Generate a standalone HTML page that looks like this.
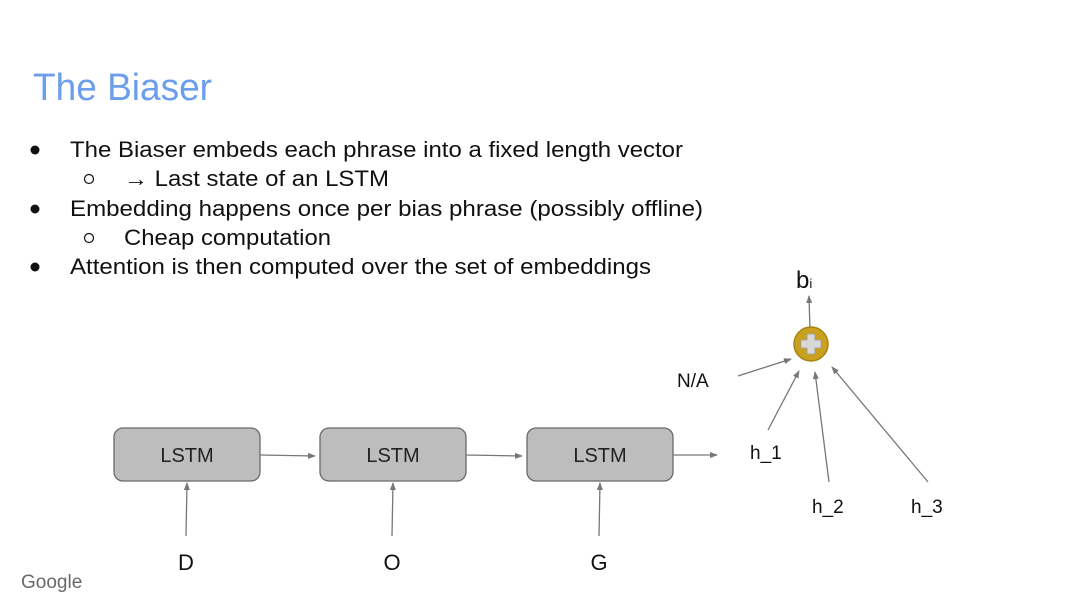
<!DOCTYPE html>
<html><head><meta charset="utf-8"><style>
html,body{margin:0;padding:0;background:#fff;}
svg{display:block;}
text{font-family:"Liberation Sans",Arial,sans-serif;}
</style></head><body>
<svg width="1080" height="607" viewBox="0 0 1080 607" xmlns="http://www.w3.org/2000/svg">
<defs>
<marker id="a" markerWidth="8" markerHeight="6" refX="7" refY="3" orient="auto" markerUnits="userSpaceOnUse">
<path d="M0,0 L8,3 L0,6 z" fill="#777"/></marker>
</defs>
<text x="33" y="100" font-size="38" fill="#6d9eeb" textLength="179" lengthAdjust="spacingAndGlyphs">The Biaser</text>
<g fill="#111">
<circle cx="35" cy="150" r="4.5"/><circle cx="35" cy="209" r="4.5"/><circle cx="35" cy="267" r="4.5"/>
</g>
<g fill="none" stroke="#111" stroke-width="1.2">
<circle cx="89" cy="179" r="4.5"/><circle cx="89" cy="238" r="4.5"/>
</g>
<g font-size="22" fill="#111" lengthAdjust="spacingAndGlyphs">
<text x="70" y="157" textLength="613" lengthAdjust="spacingAndGlyphs">The Biaser embeds each phrase into a fixed length vector</text>
<text x="124" y="186" textLength="265" lengthAdjust="spacingAndGlyphs">→ Last state of an LSTM</text>
<text x="70" y="216" textLength="633" lengthAdjust="spacingAndGlyphs">Embedding happens once per bias phrase (possibly offline)</text>
<text x="124" y="245" textLength="207" lengthAdjust="spacingAndGlyphs">Cheap computation</text>
<text x="70" y="274" textLength="581" lengthAdjust="spacingAndGlyphs">Attention is then computed over the set of embeddings</text>
</g>
<g fill="#bdbdbd" stroke="#6a6a6a" stroke-width="1.3">
<rect x="114" y="428" width="146" height="53" rx="9"/>
<rect x="320" y="428" width="146" height="53" rx="9"/>
<rect x="527" y="428" width="146" height="53" rx="9"/>
</g>
<g font-size="20" fill="#222" text-anchor="middle">
<text x="187" y="462">LSTM</text><text x="393" y="462">LSTM</text><text x="600" y="462">LSTM</text>
</g>
<g stroke="#777" stroke-width="1.3" marker-end="url(#a)">
<line x1="260" y1="455" x2="315" y2="456"/>
<line x1="466" y1="455" x2="522" y2="456"/>
<line x1="673" y1="455" x2="717" y2="455"/>
<line x1="186" y1="536" x2="187" y2="483"/>
<line x1="392" y1="536" x2="393" y2="483"/>
<line x1="599" y1="536" x2="600" y2="483"/>
<line x1="810" y1="330" x2="809" y2="296"/>
<line x1="738" y1="376" x2="791" y2="359"/>
<line x1="768" y1="430" x2="799" y2="371"/>
<line x1="829" y1="482" x2="815" y2="372"/>
<line x1="928" y1="482" x2="832" y2="367"/>
</g>
<circle cx="811" cy="344" r="17" fill="#c9a020" stroke="#a88410" stroke-width="1.5"/>
<path d="M807,334 h8 v6 h6 v8 h-6 v6 h-8 v-6 h-6 v-8 h6 z" fill="#d8d8d8" stroke="#9a9a9a" stroke-width="0.8"/>
<g font-size="22" fill="#111" text-anchor="middle">
<text x="186" y="570">D</text><text x="392" y="570">O</text><text x="599" y="570">G</text>
</g>
<text x="796" y="288" font-size="24" fill="#111">b<tspan font-size="13">i</tspan></text>
<g font-size="19" fill="#111">
<text x="677" y="387">N/A</text>
<text x="750" y="459">h_1</text>
<text x="812" y="513">h_2</text>
<text x="911" y="513">h_3</text>
</g>
<text x="21" y="588" font-size="19" fill="#6a6a6a">Google</text>
</svg>
</body></html>
